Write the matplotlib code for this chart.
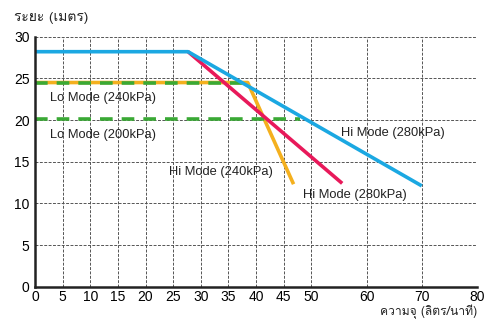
import matplotlib
matplotlib.use("Agg")
import matplotlib.pyplot as plt
from matplotlib import font_manager, ft2font

# find an installed family that has Thai glyphs
thai_family = None
for f in font_manager.fontManager.ttflist:
    try:
        if ft2font.FT2Font(f.fname).get_char_index(ord('ร')):
            thai_family = f.name
            break
    except Exception:
        pass

# data
blue_x = [0, 27.7, 70]
blue_y = [28.2, 28.2, 12.1]
red_x = [27.7, 55.6]
red_y = [28.2, 12.4]
orange_x = [0, 38.5, 46.8]
orange_y = [24.5, 24.5, 12.3]
green240_x = [0, 38.5]
green240_y = [24.5, 24.5]
green200_x = [0, 48]
green200_y = [20.1, 20.1]
xticks = [0, 5, 10, 15, 20, 25, 30, 35, 40, 45, 50, 60, 70, 80]
yticks = [0, 5, 10, 15, 20, 25, 30]

plt.rcParams['font.family'] = ['Liberation Sans', 'DejaVu Sans']

fig = plt.figure(figsize=(4.97, 3.19), dpi=100)
ax = fig.add_axes([35/497, 1 - 286.7/319, 442/497, 250/319])

ax.plot(orange_x, orange_y, color='#f4b01e', lw=2.6, solid_capstyle='butt')
ax.plot(green240_x, green240_y, color='#3aa935', lw=2.6, dashes=(3.5, 2.5))
ax.plot(green200_x, green200_y, color='#3aa935', lw=2.6, dashes=(3.5, 2.5))
ax.plot(red_x, red_y, color='#e8195a', lw=2.6, solid_capstyle='butt')
ax.plot(blue_x, blue_y, color='#1ba8e2', lw=2.6, solid_capstyle='butt')

ax.set_xlim(0, 80)
ax.set_ylim(0, 30)
ax.set_xticks(xticks)
ax.set_yticks(yticks)
ax.grid(True, color='#555555', lw=0.7, ls=(0, (3, 1.5)))
ax.set_axisbelow(True)
ax.tick_params(length=0, labelsize=10, pad=4)
ax.tick_params(axis='x', pad=2.5)
for s in ['top', 'right']:
    ax.spines[s].set_visible(False)
for s in ['left', 'bottom']:
    ax.spines[s].set_linewidth(1.8)
    ax.spines[s].set_color('#222222')

lab = dict(fontsize=9.3, color='#222222')
ax.text(2.7, 22.7, 'Lo Mode (240kPa)', va='center', **lab)
ax.text(2.7, 18.2, 'Lo Mode (200kPa)', va='center', **lab)
ax.text(55.3, 18.5, 'Hi Mode (280kPa)', va='center', **lab)
ax.text(24.3, 13.8, 'Hi Mode (240kPa)', va='center', **lab)
ax.text(48.5, 11.0, 'Hi Mode (280kPa)', va='center', **lab)

tf = [thai_family, 'DejaVu Sans'] if thai_family else ['DejaVu Sans']
fig.text(14/497, 1 - 18/319, 'ระยะ (เมตร)', family=tf, fontsize=10, va='center', color='#222222')
fig.text(477/497, 0, 'ความจุ (ลิตร/นาที)', family=tf, fontsize=8.7, ha='right', va='bottom', color='#222222')

fig.savefig('out.png', dpi=100, facecolor='white')
